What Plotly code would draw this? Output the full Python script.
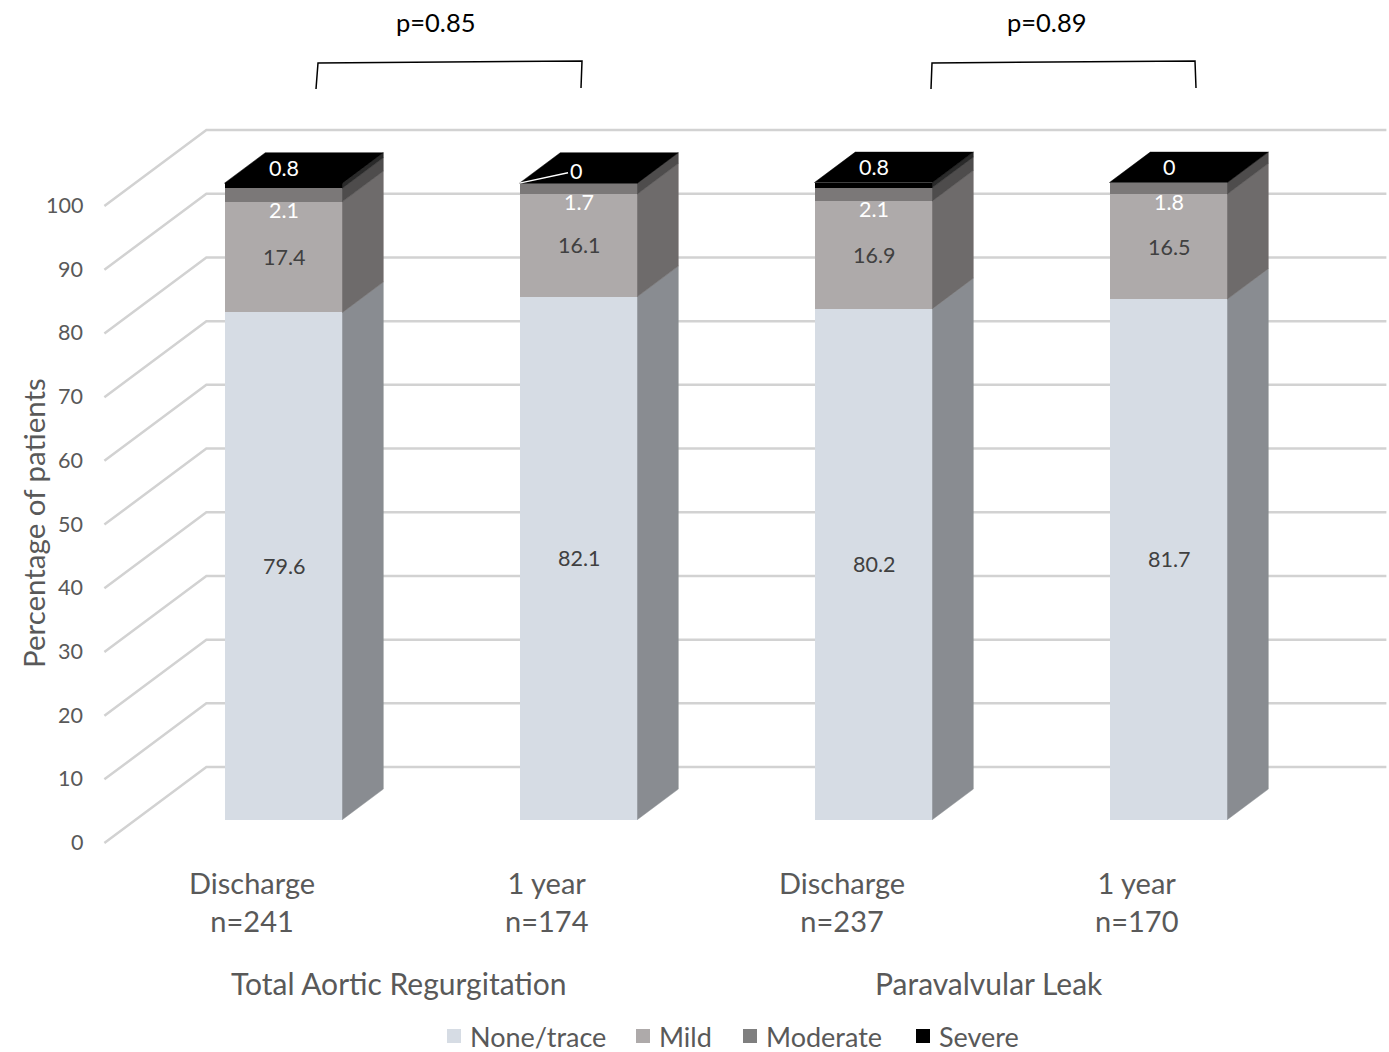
import plotly.graph_objects as go

# ---------------- data ----------------
categories = ["Discharge<br>n=241", "1 year<br>n=174", "Discharge<br>n=237", "1 year<br>n=170"]
groups = ["Total Aortic Regurgitation", "Paravalvular Leak"]
series_names = ["None/trace", "Mild", "Moderate", "Severe"]
none_trace = [79.6, 82.1, 80.2, 81.7]
mild = [17.4, 16.1, 16.9, 16.5]
moderate = [2.1, 1.7, 2.1, 1.8]
severe = [0.8, 0, 0.8, 0]
p_values = ["p=0.85", "p=0.89"]
y_ticks = list(range(0, 101, 10))

series = [none_trace, mild, moderate, severe]

# ---------------- style ----------------
W, H = 1389, 1052
FONT = "Lato"
GREY_TEXT = "#595959"
front_colors = ["#D6DCE4", "#AEAAAA", "#7B7878", "#000000"]
side_colors = ["#898C91", "#6E6B6B", "#4E4C4C", "#2A2A2A"]
legend_colors = ["#D6DCE4", "#AEAAAA", "#7F7F7F", "#000000"]
top_color = "#000000"
label_colors = ["#404040", "#404040", "#FFFFFF", "#FFFFFF"]
zero_leader = [False, True, False, False]

# axis scaling (category units on x, percent on y, measured on the bar front plane)
PX_PER_CAT = 295.0
X0_PX = 283.5
PX_PER_UNIT = 6.37
Y0_PX = 819.5
x_range = [(0 - X0_PX) / PX_PER_CAT, (W - X0_PX) / PX_PER_CAT]
y_range = [(Y0_PX - H) / PX_PER_UNIT, Y0_PX / PX_PER_UNIT]

# oblique depth projection: z = 0 floor front, z = 1 back wall
DEPTH_DX = 102.0 / PX_PER_CAT
DEPTH_DY = 76.0 / PX_PER_UNIT
Z_FRONT, Z_BACK = 0.31, 0.71
BAR_W = 0.4
X_LEFT, X_RIGHT = -0.5, len(categories) - 0.5


def proj(x, v, z):
    return x + (z - Z_FRONT) * DEPTH_DX, v + (z - Z_FRONT) * DEPTH_DY


def px(x):
    return x / W


def py(y):
    return 1 - y / H


fig = go.Figure()

# front faces of the stacked bars
xs = list(range(len(categories)))
for s, vals in enumerate(series):
    fig.add_trace(go.Bar(
        x=xs, y=vals, name=series_names[s], width=BAR_W,
        marker=dict(color=front_colors[s], line=dict(width=0)),
        hoverinfo="skip", showlegend=False,
    ))

# right-hand side faces of each segment
bases = [[0.0] * len(xs) for _ in series]
for s in range(1, len(series)):
    bases[s] = [bases[s - 1][i] + series[s - 1][i] for i in xs]

for s, vals in enumerate(series):
    sx, sy = [], []
    for i in xs:
        b, t = bases[s][i], bases[s][i] + vals[i]
        if t - b <= 0:
            continue
        xr = i + BAR_W / 2
        for (v, z) in [(b, Z_FRONT), (t, Z_FRONT), (t, Z_BACK), (b, Z_BACK), (b, Z_FRONT)]:
            X, Y = proj(xr, v, z)
            sx.append(X)
            sy.append(Y)
        sx.append(None)
        sy.append(None)
    fig.add_trace(go.Scatter(
        x=sx, y=sy, mode="lines", fill="toself", fillcolor=side_colors[s],
        line=dict(color=side_colors[s], width=0.5), showlegend=False, hoverinfo="skip",
    ))

# top faces
tx, ty = [], []
for i in xs:
    t = sum(vals[i] for vals in series)
    for (x, z) in [(i - BAR_W / 2, Z_FRONT), (i + BAR_W / 2, Z_FRONT),
                   (i + BAR_W / 2, Z_BACK), (i - BAR_W / 2, Z_BACK), (i - BAR_W / 2, Z_FRONT)]:
        X, Y = proj(x, t, z)
        tx.append(X)
        ty.append(Y)
    tx.append(None)
    ty.append(None)
fig.add_trace(go.Scatter(
    x=tx, y=ty, mode="lines", fill="toself", fillcolor=top_color,
    line=dict(color=top_color, width=0.5), showlegend=False, hoverinfo="skip",
))

# gridlines on the side wall and back wall
shapes = []
for v in y_ticks:
    a = proj(X_LEFT, v, 0)
    b = proj(X_LEFT, v, 1)
    c = proj(X_RIGHT, v, 1)
    shapes.append(dict(
        type="path", xref="x", yref="y", layer="below",
        path=f"M{a[0]},{a[1]} L{b[0]},{b[1]} L{c[0]},{c[1]}",
        line=dict(color="#D2D2D2", width=2.5),
    ))

# significance brackets
brackets = [
    [(316, 89), (318, 63), (582, 61), (581, 88)],
    [(931, 89), (932, 63), (1195, 61), (1196, 88)],
]
for pts in brackets:
    path = "M" + " L".join(f"{px(x)},{py(y)}" for x, y in pts)
    shapes.append(dict(type="path", xref="paper", yref="paper", path=path,
                       line=dict(color="#000000", width=1.5)))

annotations = []

# legend row: colour swatch + series name
legend_left = [447, 636, 743, 916]
LEG_Y, SW = 1036, 14
for s, name in enumerate(series_names):
    x0 = legend_left[s]
    shapes.append(dict(
        type="rect", xref="paper", yref="paper",
        x0=px(x0), x1=px(x0 + SW), y0=py(LEG_Y + SW / 2), y1=py(LEG_Y - SW / 2),
        fillcolor=legend_colors[s], line=dict(width=0),
    ))
    annotations.append(dict(
        x=px(x0 + SW + 7), y=py(LEG_Y), xref="paper", yref="paper", text=name,
        showarrow=False, xanchor="left", yanchor="middle",
        font=dict(family=FONT, size=27, color=GREY_TEXT),
    ))

# y tick labels at the front edge of the side wall
for v in y_ticks:
    X, Y = proj(X_LEFT, v, 0)
    annotations.append(dict(
        x=X, y=Y, xref="x", yref="y", text=str(v), showarrow=False,
        xanchor="right", yanchor="middle", xshift=-19, yshift=1,
        font=dict(family=FONT, size=21.5, color=GREY_TEXT),
    ))

# axis title
annotations.append(dict(
    x=px(33), y=py(523), xref="paper", yref="paper", text="Percentage of patients",
    textangle=-90, showarrow=False, xanchor="center", yanchor="middle",
    font=dict(family=FONT, size=29.5, color=GREY_TEXT),
))

# category labels
for i, cat in enumerate(categories):
    X, Y = proj(i, 0, 0)
    annotations.append(dict(
        x=X, y=Y, xref="x", yref="y", text=cat, showarrow=False,
        xanchor="center", yanchor="top", yshift=-20,
        font=dict(family=FONT, size=29, color=GREY_TEXT),
    ))

# group labels
for g, name in enumerate(groups):
    X, _ = proj(2 * g + 0.5, 0, 0)
    annotations.append(dict(
        x=X, y=py(983), xref="x", yref="paper", text=name, showarrow=False,
        xanchor="center", yanchor="middle",
        font=dict(family=FONT, size=30, color=GREY_TEXT),
    ))

# p values
for (x, y), txt in zip([(436, 22), (1046, 22)], p_values):
    annotations.append(dict(
        x=px(x), y=py(y), xref="paper", yref="paper", text=txt, showarrow=False,
        xanchor="center", yanchor="middle",
        font=dict(family=FONT, size=25.5, color="#000000"),
    ))

# data labels
for i in xs:
    for s, vals in enumerate(series):
        b = bases[s][i]
        v = vals[i]
        txt = f"{v:g}"
        font = dict(family=FONT, size=21.5, color=label_colors[s])
        if s < 2:
            annotations.append(dict(x=i, y=b + v / 2, xref="x", yref="y", text=txt,
                                    showarrow=False, font=font))
        elif s == 2:
            annotations.append(dict(x=i, y=b, xref="x", yref="y", text=txt,
                                    showarrow=False, yshift=-8, font=font))
        else:
            _, Y = proj(i, b + v, (Z_FRONT + Z_BACK) / 2)
            if zero_leader[i]:
                annotations.append(dict(
                    x=i - BAR_W / 2, y=b + v, xref="x", yref="y", text=txt,
                    showarrow=True, arrowhead=0, arrowwidth=1.3, arrowcolor="#FFFFFF",
                    ax=56, ay=-12, font=font,
                ))
            else:
                annotations.append(dict(x=i, y=Y, xref="x", yref="y", text=txt,
                                        showarrow=False, font=font))

fig.update_layout(
    width=W, height=H,
    margin=dict(l=0, r=0, t=0, b=0, autoexpand=False),
    paper_bgcolor="white", plot_bgcolor="white",
    barmode="stack",
    xaxis=dict(range=x_range, visible=False, fixedrange=True),
    yaxis=dict(range=y_range, visible=False, fixedrange=True),
    shapes=shapes,
    annotations=annotations,
    showlegend=False,
    font=dict(family=FONT),
)

fig.write_html("out.html")
